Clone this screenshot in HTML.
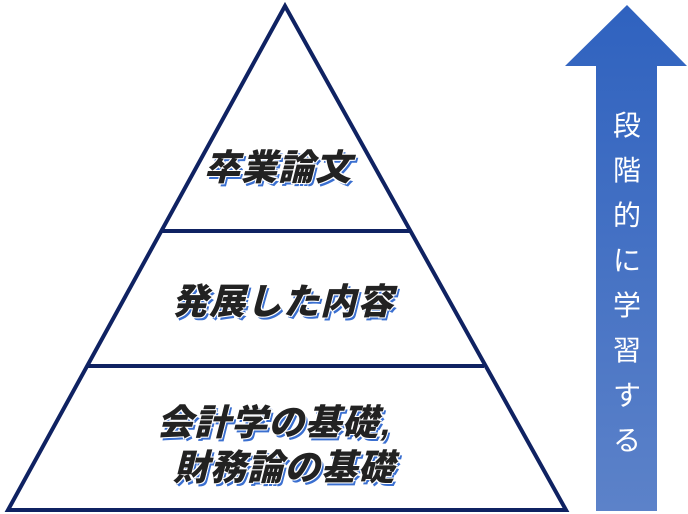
<!DOCTYPE html>
<html><head><meta charset="utf-8"><style>
body{margin:0;width:688px;height:514px;background:#fff;overflow:hidden;position:relative;font-family:"Liberation Sans","Noto Sans CJK JP",sans-serif}
.t{position:absolute;font-weight:900;font-size:36px;color:#222;white-space:nowrap;transform:skewX(-14deg);letter-spacing:1px;
text-shadow:-1px -1px 0 #fff,1px -1px 0 #fff,-1px 1px 0 #fff,1px 1px 0 #fff,3px 3px 0 #3a6fd0;line-height:1}
.v{position:absolute;left:611px;width:32px;text-align:center;color:#fff;font-size:28px;line-height:45px;top:103px}
</style></head><body>
<svg width="688" height="514" style="position:absolute;left:0;top:0">
<defs><linearGradient id="g" x1="0" y1="0" x2="0" y2="1"><stop offset="0" stop-color="#2f62bf"/><stop offset="1" stop-color="#5c82c9"/></linearGradient></defs>
<polygon points="285,6 8,510 566,510" fill="#fff" stroke="#0f2262" stroke-width="4" stroke-linejoin="miter"/>
<line x1="161" y1="231" x2="410" y2="231" stroke="#0f2262" stroke-width="4"/>
<line x1="87" y1="366" x2="484" y2="366" stroke="#0f2262" stroke-width="4"/>
<polygon points="627,5 687,66 657,66 657,511 596,511 596,66 565,66" fill="url(#g)"/>
</svg>
<div class="t" style="left:207px;top:150px">卒業論文</div>
<div class="t" style="left:175px;top:284px">発展した内容</div>
<div class="t" style="left:160px;top:405px">会計学の基礎,</div>
<div class="t" style="left:176px;top:450px">財務論の基礎</div>
<div class="v">段<br>階<br>的<br>に<br>学<br>習<br>す<br>る</div>
</body></html>
